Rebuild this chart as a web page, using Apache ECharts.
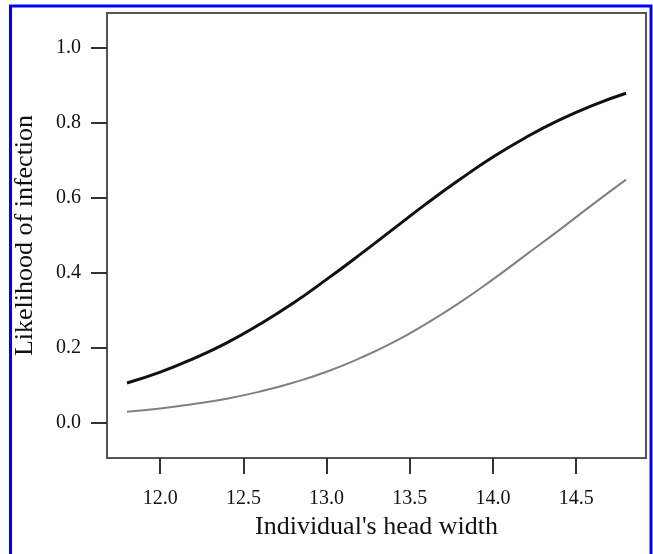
<!DOCTYPE html>
<html>
<head>
<meta charset="utf-8">
<script src="https://cdn.jsdelivr.net/npm/echarts@6/dist/echarts.min.js"></script>
<style>
html,body{margin:0;padding:0;background:#fff;}
#chart{width:653px;height:554px;}
</style>
</head>
<body>
<div id="chart"></div>
<script>
// Head width values at which the curves were read
const headWidth = [11.8, 12.0, 12.2, 12.4, 12.6, 12.8, 13.0, 13.2, 13.4, 13.6, 13.8, 14.0, 14.2, 14.4, 14.6, 14.8];
// Black curve
const likelihoodBlack = [0.107, 0.136, 0.172, 0.214, 0.264, 0.320, 0.383, 0.449, 0.517, 0.585, 0.649, 0.709, 0.762, 0.808, 0.847, 0.879];
// Grey curve
const likelihoodGrey = [0.030, 0.039, 0.051, 0.065, 0.084, 0.108, 0.137, 0.173, 0.215, 0.265, 0.321, 0.383, 0.449, 0.515, 0.583, 0.649];
// Tick labels
const xTicks = [12.0, 12.5, 13.0, 13.5, 14.0, 14.5];
const yTicks = [0.0, 0.2, 0.4, 0.6, 0.8, 1.0];

const FONT = '"Liberation Serif", "DejaVu Serif", serif';

const chart = echarts.init(document.getElementById('chart'), null, {renderer: 'canvas'});
chart.setOption({
  animation: false,
  backgroundColor: '#ffffff',
  grid: {
    left: 107, right: 7, top: 13, bottom: 96,
    show: true, borderColor: '#555555', borderWidth: 2, backgroundColor: 'transparent'
  },
  xAxis: {
    type: 'value', min: 11.68, max: 14.92,
    name: "Individual's head width", nameLocation: 'middle', nameGap: 51,
    nameTextStyle: {fontFamily: FONT, fontSize: 26, color: '#111'},
    axisLine: {show: false, onZero: false},
    splitLine: {show: false},
    axisTick: {show: true, customValues: xTicks, length: 16, inside: false, lineStyle: {color: '#333', width: 2}},
    axisLabel: {customValues: xTicks, margin: 31, fontFamily: FONT, fontSize: 20, color: '#111',
      formatter: v => v.toFixed(1)}
  },
  yAxis: {
    type: 'value', min: -0.093, max: 1.093,
    name: 'Likelihood of infection', nameLocation: 'middle', nameGap: 69,
    nameTextStyle: {fontFamily: FONT, fontSize: 26, color: '#111'},
    axisLine: {show: false, onZero: false},
    splitLine: {show: false},
    axisTick: {show: true, customValues: yTicks, length: 16, inside: false, lineStyle: {color: '#333', width: 2}},
    axisLabel: {customValues: yTicks, margin: 26, fontFamily: FONT, fontSize: 20, color: '#111',
      formatter: v => v.toFixed(1)}
  },
  series: [
    {
      type: 'line', smooth: true, showSymbol: false, silent: true,
      data: headWidth.map((x, i) => [x, likelihoodBlack[i]]),
      lineStyle: {color: '#111111', width: 3}
    },
    {
      type: 'line', smooth: true, showSymbol: false, silent: true,
      data: headWidth.map((x, i) => [x, likelihoodGrey[i]]),
      lineStyle: {color: '#808080', width: 2}
    }
  ],
  graphic: [
    {
      type: 'rect', silent: true,
      shape: {x: 10.5, y: 6, width: 640.5, height: 570},
      style: {fill: 'none', stroke: '#0000ff', lineWidth: 3}
    }
  ]
});
</script>
</body>
</html>
